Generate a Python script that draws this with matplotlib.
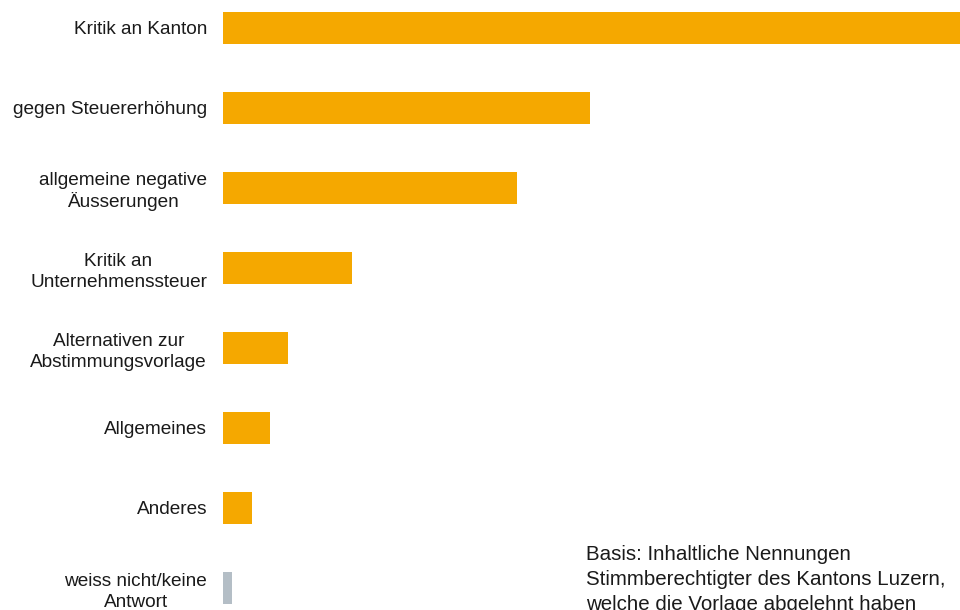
import matplotlib
matplotlib.use("Agg")
import matplotlib.pyplot as plt

categories = [
    "Kritik an Kanton",
    "gegen Steuererhöhung",
    "allgemeine negative\nÄusserungen",
    "Kritik an\nUnternehmenssteuer",
    "Alternativen zur\nAbstimmungsvorlage",
    "Allgemeines",
    "Anderes",
    "weiss nicht/keine\nAntwort",
]
values = [41, 20.4, 16.35, 7.2, 3.64, 2.6, 1.6, 0.5]
colors = ["#F5A800"] * 7 + ["#B4BEC6"]
note = ("Basis: Inhaltliche Nennungen\n"
        "Stimmberechtigter des Kantons Luzern,\n"
        "welche die Vorlage abgelehnt haben")

plt.rcParams["font.family"] = ["Liberation Sans", "DejaVu Sans"]

fig = plt.figure(figsize=(9.6, 6.1), dpi=100)
ax = fig.add_axes([223 / 960, 0, 737 / 960, 1])

pos = list(range(len(categories)))
ax.barh(pos, values, height=0.4, color=colors)
ax.set_xlim(0, 41)
ax.set_ylim(7.275, -0.35)

ax.set_yticks(pos)
ax.set_yticklabels(categories, fontsize=13.7, color="#1a1a1a")
for lbl in ax.get_yticklabels():
    lbl.set_multialignment("center")
    # umlaut capitals already add height to their line
    lbl.set_linespacing(1.18 if "Ä" in lbl.get_text() else 1.31)
ax.tick_params(axis="y", length=0, pad=11.5)
ax.set_xticks([])
for s in ax.spines.values():
    s.set_visible(False)

fig.text(586 / 960, 1 - 545 / 610, note, fontsize=14.8, color="#1a1a1a",
         ha="left", va="top", linespacing=1.4)

fig.savefig("out.png", dpi=100)
